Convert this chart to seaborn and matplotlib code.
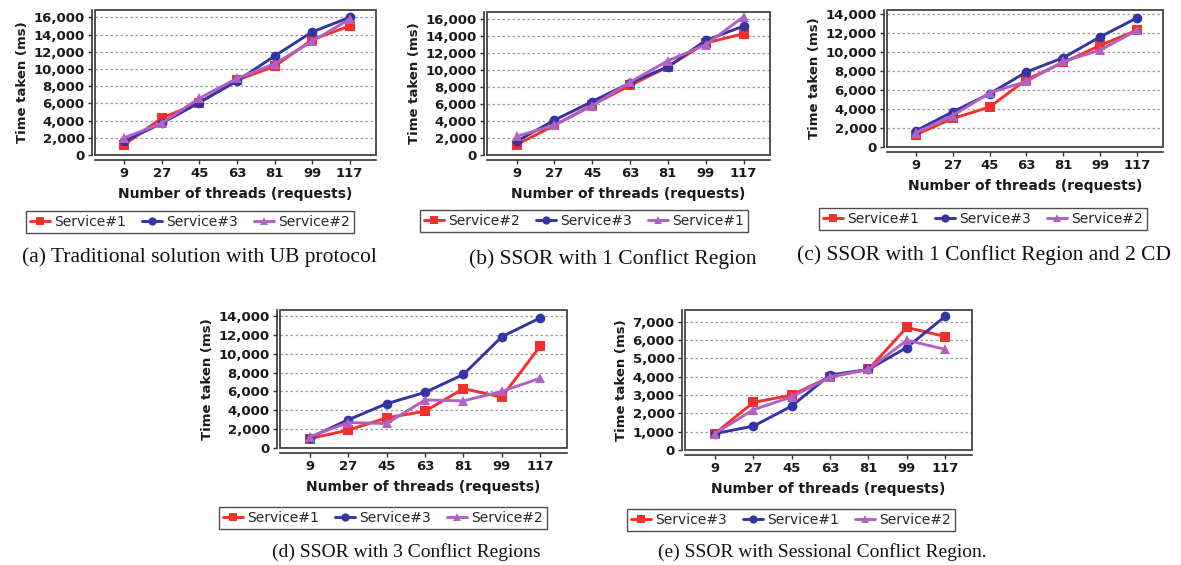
import matplotlib

matplotlib.use("Agg")
import matplotlib.pyplot as plt  # noqa: E402
import pandas as pd  # noqa: E402
import seaborn as sns  # noqa: E402
from matplotlib.patches import Rectangle  # noqa: E402
from matplotlib.ticker import FuncFormatter, MultipleLocator  # noqa: E402

threads = ["9", "27", "45", "63", "81", "99", "117"]

# (a) Traditional solution with UB protocol
a_service1 = [1200, 4300, 6100, 8700, 10300, 13400, 15000]
a_service3 = [1600, 3700, 6100, 8600, 11500, 14300, 16000]
a_service2 = [2000, 3700, 6600, 8900, 10600, 13200, 15800]

# (b) SSOR with 1 Conflict Region
b_service2 = [1200, 3500, 5900, 8200, 10400, 13200, 14300]
b_service3 = [1600, 4100, 6300, 8500, 10400, 13500, 15200]
b_service1 = [2200, 3500, 5800, 8600, 11100, 13000, 16300]

# (c) SSOR with 1 Conflict Region and 2 CD
c_service1 = [1300, 3000, 4200, 7100, 8900, 10700, 12300]
c_service3 = [1700, 3700, 5600, 7900, 9400, 11600, 13600]
c_service2 = [1500, 3300, 5700, 6900, 9000, 10200, 12300]

# (d) SSOR with 3 Conflict Regions
d_service1 = [1000, 1900, 3200, 3900, 6300, 5400, 10800]
d_service3 = [1100, 3000, 4700, 5900, 7800, 11800, 13800]
d_service2 = [1200, 2700, 2600, 5100, 5000, 6000, 7400]

# (e) SSOR with Sessional Conflict Region
e_service3 = [900, 2600, 3000, 4000, 4400, 6700, 6200]
e_service1 = [900, 1300, 2400, 4100, 4400, 5600, 7300]
e_service2 = [900, 2200, 2900, 4000, 4400, 6000, 5500]

RED, BLUE, PURPLE = "#f5302c", "#3434a4", "#b062c4"
W, H = 1181, 565

panels = [
    {
        "series": [("Service#1", a_service1), ("Service#3", a_service3), ("Service#2", a_service2)],
        "frame": (95, 10, 376, 155), "ymax": 16850, "step": 2000,
        "legend": (190, 222), "caption": (199, 257), "capsize": 15.5,
        "text": "(a) Traditional solution with UB protocol",
    },
    {
        "series": [("Service#2", b_service2), ("Service#3", b_service3), ("Service#1", b_service1)],
        "frame": (487, 12, 770, 155), "ymax": 16860, "step": 2000,
        "legend": (584, 221), "caption": (613, 259), "capsize": 15.5,
        "text": "(b) SSOR with 1 Conflict Region",
    },
    {
        "series": [("Service#1", c_service1), ("Service#3", c_service3), ("Service#2", c_service2)],
        "frame": (887, 10, 1163, 147), "ymax": 14420, "step": 2000,
        "legend": (983, 219), "caption": (984, 255), "capsize": 15.5,
        "text": "(c) SSOR with 1 Conflict Region and 2 CD",
    },
    {
        "series": [("Service#1", d_service1), ("Service#3", d_service3), ("Service#2", d_service2)],
        "frame": (280, 310, 567, 448), "ymax": 14640, "step": 2000,
        "legend": (383, 518), "caption": (406, 552), "capsize": 14,
        "text": "(d) SSOR with 3 Conflict Regions",
    },
    {
        "series": [("Service#3", e_service3), ("Service#1", e_service1), ("Service#2", e_service2)],
        "frame": (685, 310, 972, 450), "ymax": 7650, "step": 1000,
        "legend": (791, 520), "caption": (822, 552), "capsize": 14,
        "text": "(e) SSOR with Sessional Conflict Region.",
    },
]

sns.set_theme(style="white")
plt.rcParams["font.family"] = ["DejaVu Sans"]

fig = plt.figure(figsize=(W / 100, H / 100), dpi=100)
fmt = FuncFormatter(lambda v, _: f"{int(v):,}")

for p in panels:
    x0, y0, x1, y1 = p["frame"]
    ax = fig.add_axes([x0 / W, (H - y1) / H, (x1 - x0) / W, (y1 - y0) / H])

    rows = []
    for name, vals in p["series"]:
        for t, v in zip(threads, vals):
            rows.append({"threads": t, "ms": v, "service": name})
    df = pd.DataFrame(rows)

    sns.lineplot(
        data=df, x="threads", y="ms", hue="service", style="service",
        palette=[RED, BLUE, PURPLE], markers=["s", "o", "^"], dashes=False,
        linewidth=2.1, markersize=7, markeredgewidth=0, ax=ax,
    )

    ax.set_xlim(-0.78, 6.7)
    ax.set_ylim(0, p["ymax"])
    ax.yaxis.set_major_locator(MultipleLocator(p["step"]))
    ax.yaxis.set_major_formatter(fmt)
    ax.grid(axis="y", color="#9a9a9a", linestyle=(0, (2, 2)), linewidth=0.9)
    ax.set_axisbelow(True)

    for side in ["top", "right"]:
        ax.spines[side].set_visible(False)
    ax.spines["left"].set_position(("outward", 2.5))
    ax.spines["bottom"].set_position(("outward", 3.6))
    for side in ["left", "bottom"]:
        ax.spines[side].set_color("#333333")
        ax.spines[side].set_linewidth(1.2)
    ax.add_patch(Rectangle((0, 0), 1, 1, transform=ax.transAxes, fill=False,
                           edgecolor="#444444", linewidth=1.3, clip_on=False, zorder=5))

    ax.tick_params(axis="both", which="major", length=3, width=1, color="#333333",
                   direction="out", left=True, bottom=True, labelsize=9.5, pad=2)
    for lab in ax.get_xticklabels() + ax.get_yticklabels():
        lab.set_fontweight("bold")
        lab.set_color("#1a1a1a")

    ax.set_xlabel("Number of threads (requests)", fontsize=10, fontweight="bold",
                  color="#1a1a1a", labelpad=5)
    ax.set_ylabel("Time taken (ms)", fontsize=9.5, fontweight="bold", color="#1a1a1a",
                  labelpad=3)

    handles, labels = ax.get_legend_handles_labels()
    ax.get_legend().remove()
    lx, ly = p["legend"]
    leg = ax.legend(handles, labels, ncol=3, loc="center",
                    bbox_to_anchor=(lx / W, 1 - ly / H), bbox_transform=fig.transFigure,
                    fontsize=10, frameon=True, fancybox=False, edgecolor="#222222",
                    handlelength=1.4, handletextpad=0.3, columnspacing=1.2,
                    borderpad=0.3, markerscale=0.85)
    leg.get_frame().set_linewidth(1.0)

    cx, cy = p["caption"]
    fig.text(cx / W, 1 - cy / H, p["text"], ha="center", va="center",
             fontsize=p["capsize"], family="Liberation Serif", color="#111111")

fig.savefig("out.png", dpi=100)
